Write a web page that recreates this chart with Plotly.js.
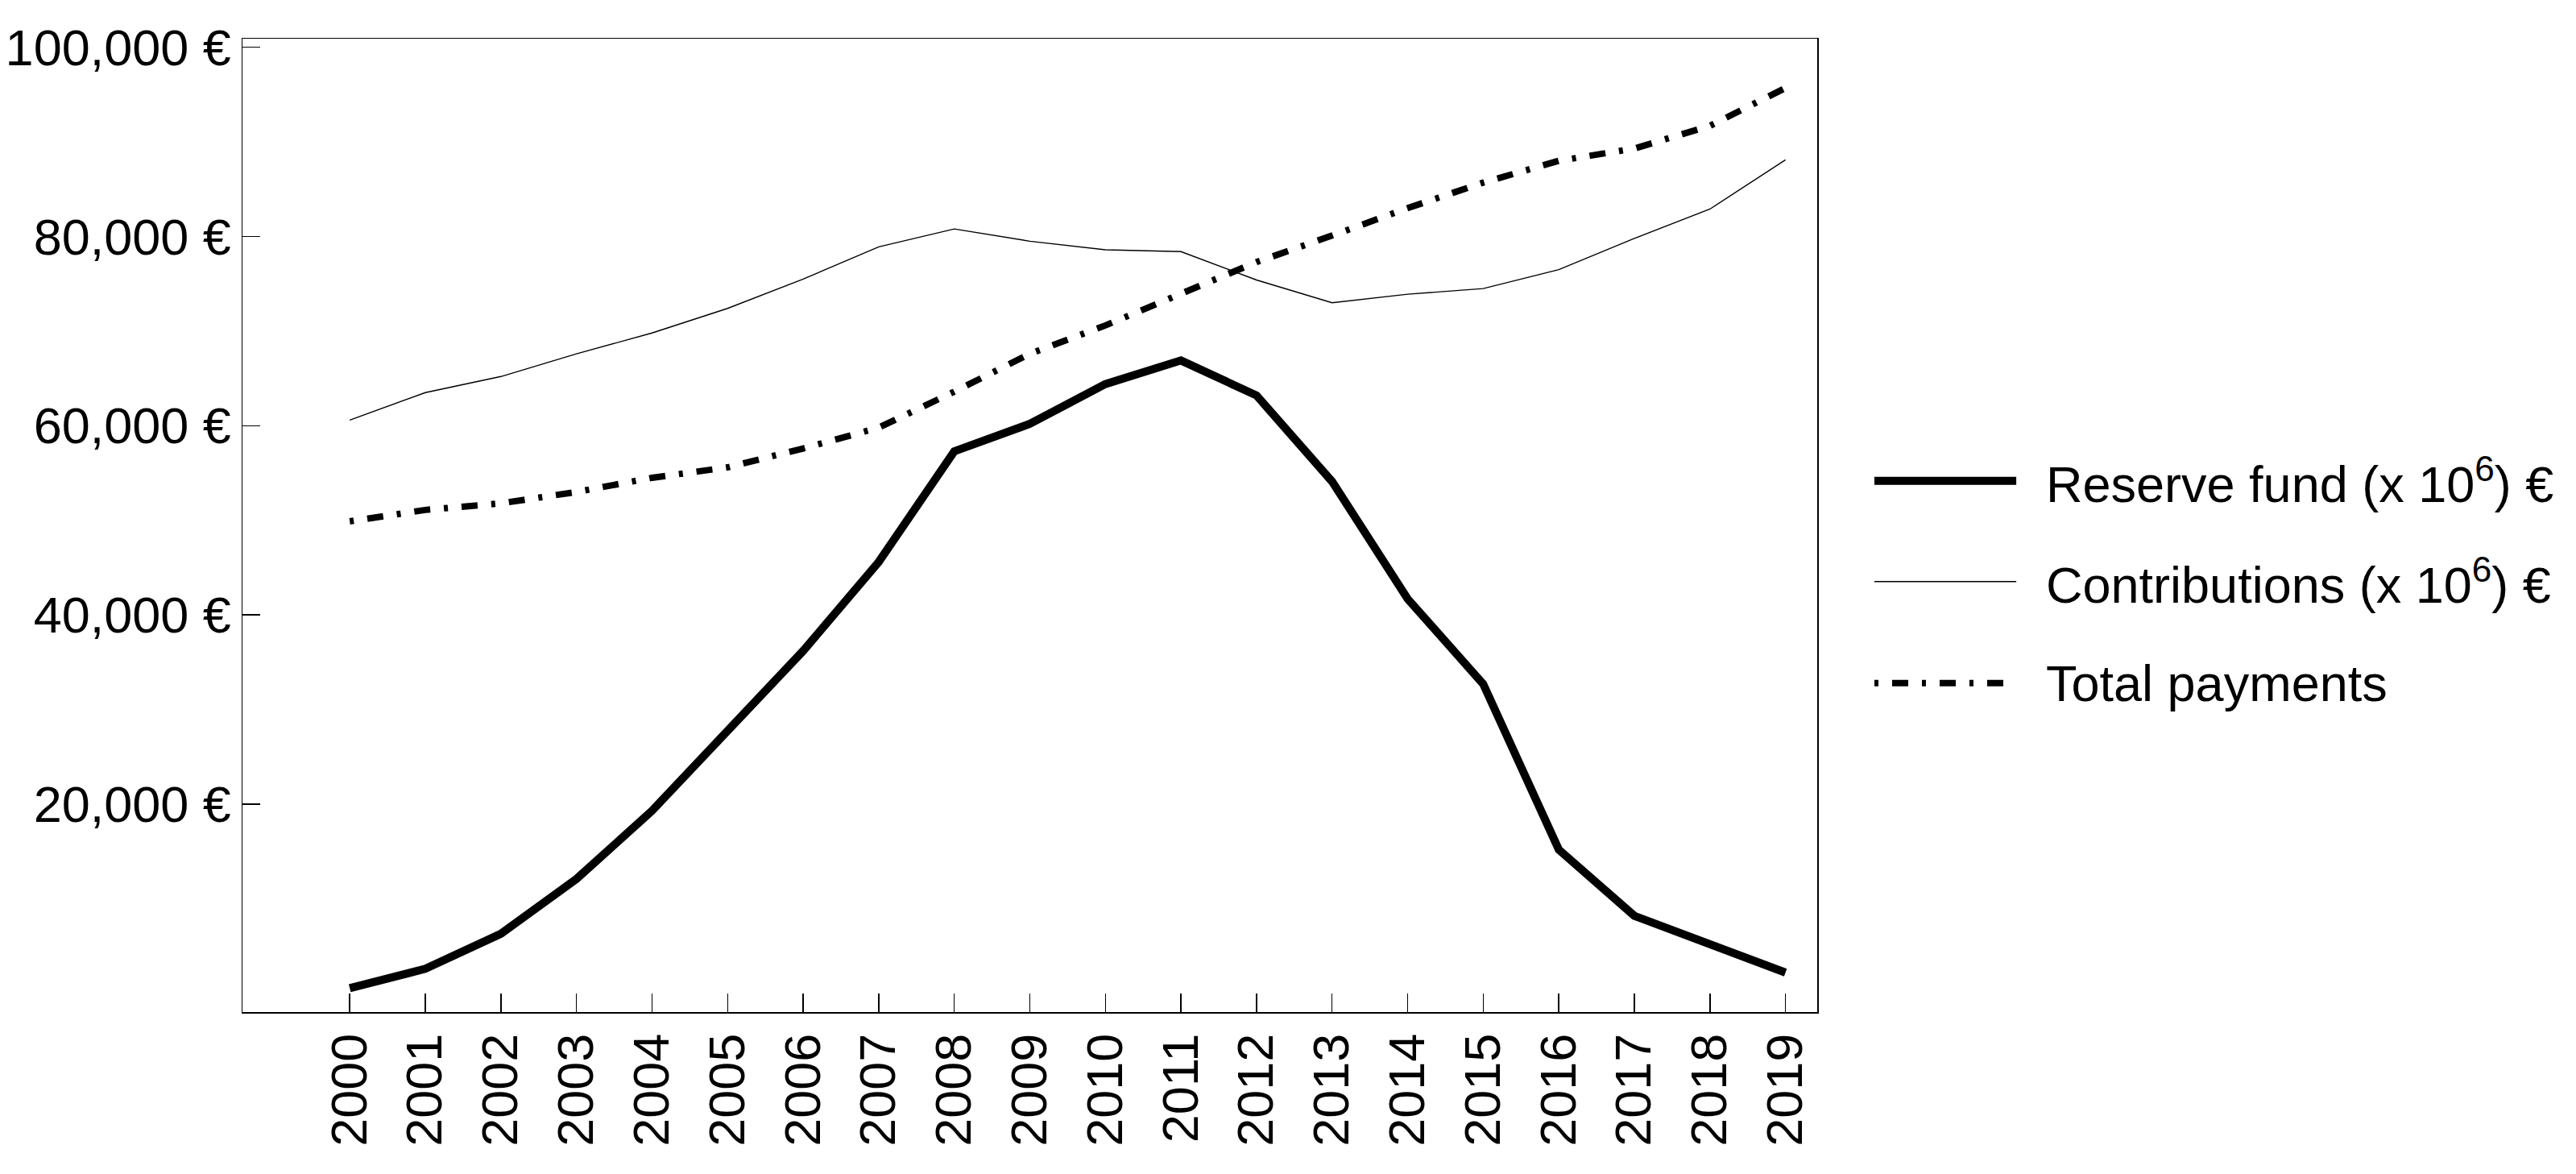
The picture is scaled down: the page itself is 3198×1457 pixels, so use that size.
<!DOCTYPE html>
<html>
<head>
<meta charset="utf-8">
<script src="https://cdn.plot.ly/plotly-3.0.1.min.js"></script>
<style>html,body{margin:0;padding:0;background:#fff;}#chart{width:3198px;height:1457px;}</style>
</head>
<body>
<div id="chart"></div>
<script>
const years = [2000,2001,2002,2003,2004,2005,2006,2007,2008,2009,2010,2011,2012,2013,2014,2015,2016,2017,2018,2019];
const reserveFund = [550,2600,6300,12100,19300,27700,36200,45600,57300,60200,64400,66900,63200,54100,41700,32700,15200,8200,5100,2200];
const contributions = [60600,63500,65200,67600,69800,72400,75500,78900,80800,79500,78600,78400,75400,73000,73900,74500,76500,79800,82900,88100];
const totalPayments = [49900,51100,51800,53000,54500,55600,57600,59800,63600,67600,70600,74000,77300,80100,83000,85700,88000,89300,91700,95700];
const seriesNames = ['Reserve fund (x 10<sup>6</sup>) €','Contributions (x 10<sup>6</sup>) €','Total payments'];
const yTickVals = [20000,40000,60000,80000,100000];
const yTickText = ['20,000 €','40,000 €','60,000 €','80,000 €','100,000 €'];

const FONT = 'Liberation Sans, Arial, sans-serif';
const FS = 63;
const styles = [
  {color:'#000', width:10, dash:'solid'},
  {color:'#000', width:1.4, dash:'solid'},
  {color:'#000', width:8, dash:'5px,17px,20px,17px'}
];
const dataSeries = [reserveFund, contributions, totalPayments];

const traces = dataSeries.map((ys,i)=>({
  x: years, y: ys, type:'scatter', mode:'lines', name: seriesNames[i],
  line: {color: styles[i].color, width: styles[i].width, dash: styles[i].dash},
  showlegend:false, hoverinfo:'skip'
}));

// custom legend (long sample lines, as in the reference)
const legY = [0.5457, 0.4423, 0.3380];
const shapes = [];
const annotations = [];
seriesNames.forEach((n,i)=>{
  shapes.push({type:'line', xref:'paper', yref:'paper', x0:1.0363, x1:1.1264, y0:legY[i], y1:legY[i],
    line:{color:styles[i].color, width: i===1?1.6:styles[i].width, dash: styles[i].dash}});
  annotations.push({xref:'paper', yref:'paper', x:1.1443, y:legY[i], xanchor:'left', yanchor:'middle',
    text:n, showarrow:false, font:{family:FONT, size:FS, color:'#000'}});
});

const layout = {
  width:3198, height:1457,
  margin:{l:301, r:942, t:48, b:201, pad:0},
  paper_bgcolor:'#fff', plot_bgcolor:'#fff',
  font:{family:FONT, size:FS, color:'#000'},
  xaxis:{
    range:[1998.58, 2019.42], tickvals: years, ticktext: years.map(String),
    tickangle:-90, ticks:'inside', ticklen:23, tickwidth:1.5, tickcolor:'#000',
    showline:true, linecolor:'#000', linewidth:1.5, mirror:true,
    showgrid:false, zeroline:false, tickfont:{family:FONT, size:FS, color:'#000'}
  },
  yaxis:{
    range:[-1970, 100910], tickvals: yTickVals, ticktext: yTickText,
    ticks:'inside', ticklen:22, tickwidth:1.5, tickcolor:'#000',
    showline:true, linecolor:'#000', linewidth:1.5, mirror:true,
    showgrid:false, zeroline:false, tickfont:{family:FONT, size:FS, color:'#000'}
  },
  shapes: shapes, annotations: annotations, showlegend:false
};

Plotly.newPlot('chart', traces, layout, {staticPlot:true, displayModeBar:false});
</script>
</body>
</html>
